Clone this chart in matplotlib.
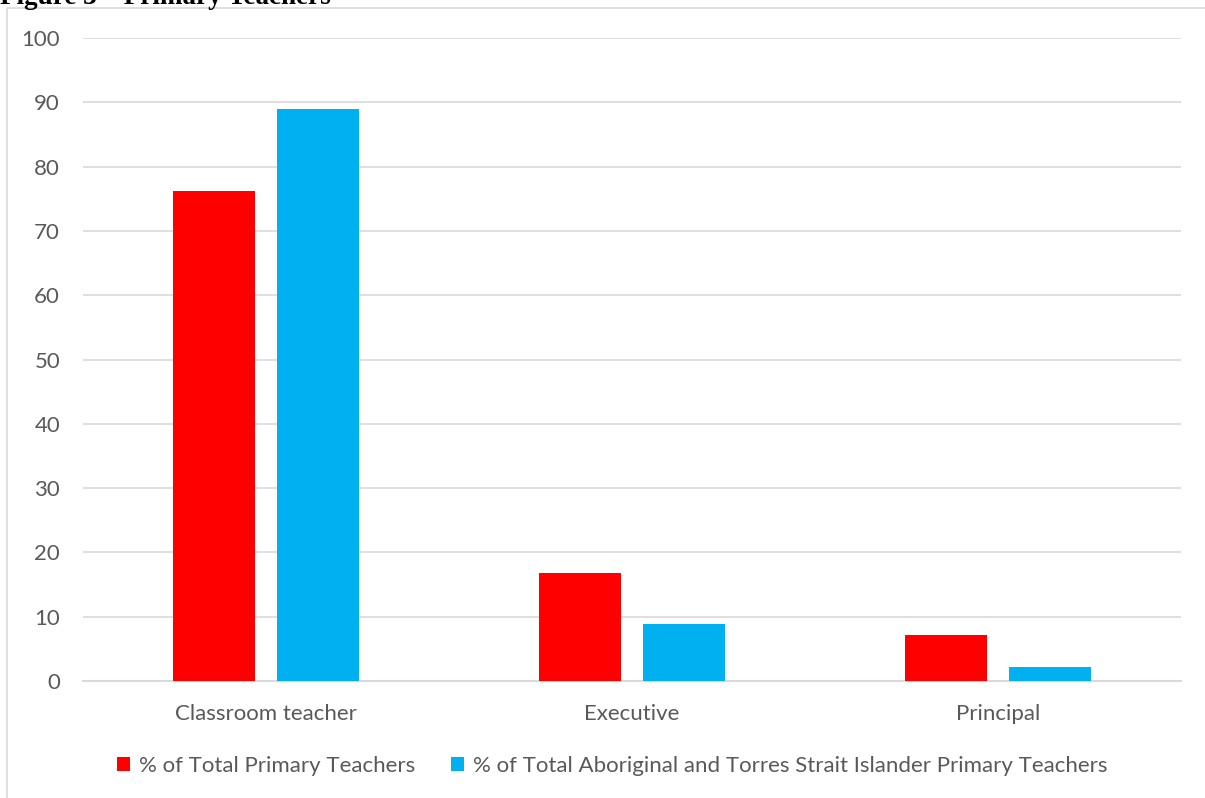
import matplotlib.pyplot as plt
import numpy as np
from matplotlib.patches import Rectangle

# Data
categories = ["Classroom teacher", "Executive", "Principal"]
total_primary = [76.2, 16.8, 7.1]
atsi_primary = [88.9, 8.9, 2.2]
series_names = ["% of Total Primary Teachers",
                "% of Total Aboriginal and Torres Strait Islander Primary Teachers"]
y_ticks = list(range(0, 101, 10))

plt.rcParams['font.family'] = ['Lato', 'DejaVu Sans']

W, H = 1205, 798
fig = plt.figure(figsize=(W / 100, H / 100), dpi=100)

# plot area in pixels: x 83..1181, y 38..681
ax = fig.add_axes([83 / W, 1 - 681 / H, (1181 - 83) / W, (681 - 38) / H])

x = np.arange(len(categories))
bw = 0.224
off = 0.142
ax.bar(x - off, total_primary, bw, color='#FF0000', label=series_names[0], zorder=3)
ax.bar(x + off, atsi_primary, bw, color='#00B0F0', label=series_names[1], zorder=3)

ax.set_xlim(-0.5, 2.5)
ax.set_ylim(0, 100)
ax.set_yticks(y_ticks)
ax.set_xticks(x)
ax.set_xticklabels(categories)
ax.tick_params(axis='both', length=0, labelsize=16, colors='#595959')
ax.tick_params(axis='x', pad=16.5)
ax.tick_params(axis='y', pad=16.5)

ax.grid(axis='y', color='#D9D9D9', linewidth=1.2, zorder=0)
ax.set_axisbelow(True)
for s in ['top', 'right', 'left']:
    ax.spines[s].set_visible(False)
ax.spines['bottom'].set_color('#D9D9D9')
ax.spines['bottom'].set_linewidth(1.5)

leg = fig.legend(loc='center', bbox_to_anchor=(612 / W, 1 - 766 / H), ncol=2,
                 frameon=False, fontsize=16, handlelength=0.6, handleheight=0.6,
                 handletextpad=0.4, columnspacing=1.6)
for t in leg.get_texts():
    t.set_color('#595959')

# outer chart border (only the top and left edges are inside the picture)
fig.patches.append(Rectangle((7 / W, -0.1), 1.2, 1 - 8 / H + 0.1, transform=fig.transFigure,
                             fill=False, edgecolor='#D9D9D9', linewidth=1.2))

# caption cut off at the top of the picture
fig.text(0, 1 - 4 / H, "Figure 3 \u2013 Primary Teachers", fontsize=19.5, fontweight='bold',
         family=['Liberation Serif', 'DejaVu Serif'], va='baseline', ha='left')

fig.savefig('out.png', dpi=100)
